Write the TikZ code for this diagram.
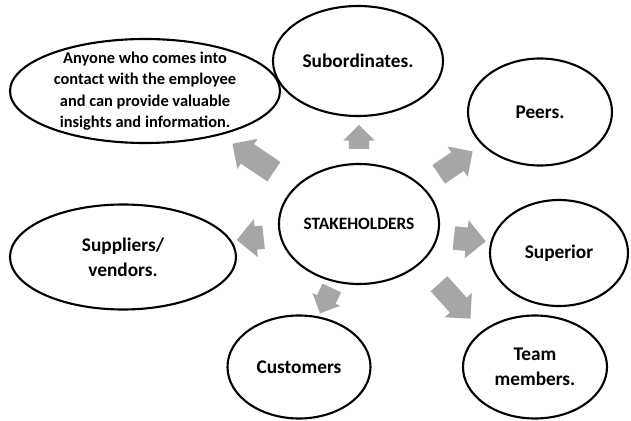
\documentclass[tikz,border=0pt]{standalone}
\usepackage{fontspec}
\setmainfont{Carlito}
\usepackage{tikz}
\usetikzlibrary{shapes,arrows}
\definecolor{arrowgray}{HTML}{A6A6A6}

\begin{document}
\begin{tikzpicture}[x=0.03cm,y=-0.03cm,
            bubble/.style={draw,ellipse,line width=1.8pt,fill=white,inner sep=0pt,align=center,font=\bfseries\fontsize{16.5}{21.2}\selectfont},
            arr/.style={single arrow,fill=arrowgray,draw=none,inner xsep=0pt,inner ysep=0.33cm,single arrow head extend=0.21cm}
          ]
          \useasboundingbox (0,0) rectangle (631,421);

          \node[bubble,minimum width=4.8cm,minimum height=3.6cm,font=\bfseries\fontsize{14.8}{18}\selectfont] (hub) at (359,224) {STAKEHOLDERS};

          %stakeholder groups
          \node[bubble,minimum width=8.1cm,minimum height=3.12cm,inner ysep=-2mm,font=\bfseries\fontsize{14}{18.4}\selectfont] (anyone) at (145,91) {Anyone who comes into\\contact with the employee\\and can provide valuable\\insights and information.};
          \node[bubble,minimum width=5.1cm,minimum height=3.3cm] (sub) at (358,61) {Subordinates.};
          \node[bubble,minimum width=4.32cm,minimum height=3.21cm] (peers) at (540,112) {Peers.};
          \node[bubble,minimum width=4.14cm,minimum height=3.18cm] (superior) at (559,253) {Superior};
          \node[bubble,minimum width=4.32cm,minimum height=3.09cm] (team) at (535,367) {Team\\members.};
          \node[bubble,minimum width=4.29cm,minimum height=3.09cm] (cust) at (299,367) {Customers};
          \node[bubble,minimum width=6.78cm,minimum height=3.15cm] (suppl) at (123,257) {Suppliers/\\vendors.};

          %arrows
          \node[arr,rotate=90,minimum height=0.72cm,inner ysep=0.3cm,single arrow head extend=0.165cm] (a-sub) at (359,142) {};
          \node[arr,rotate=146,minimum height=1.5cm,inner ysep=0.345cm,single arrow head extend=0.195cm] (a-anyone) at (258,161) {};
          \node[arr,rotate=34,minimum height=1.23cm] (a-peers) at (451,166) {};
          \node[arr,rotate=-6,minimum height=0.96cm,inner ysep=0.345cm,single arrow head extend=0.225cm] (a-superior) at (464,239) {};
          \node[arr,rotate=-48,minimum height=1.41cm] (a-team) at (451,297) {};
          \node[arr,rotate=-115,minimum height=0.84cm,inner ysep=0.3cm,single arrow head extend=0.15cm] (a-cust) at (328,296) {};
          \node[arr,rotate=186,minimum height=0.81cm,inner ysep=0.345cm,single arrow head extend=0.225cm] (a-suppl) at (256,238) {};

      \end{tikzpicture}
\end{document}
